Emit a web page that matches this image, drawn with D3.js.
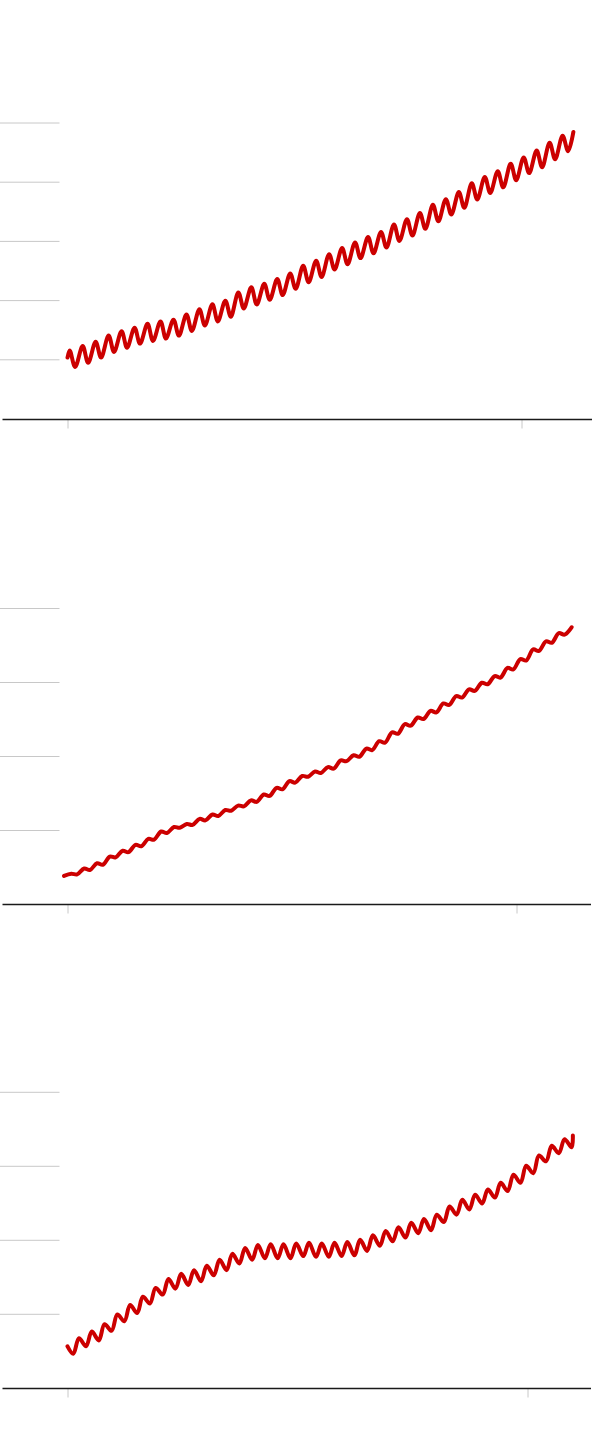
<!DOCTYPE html>
<html><head><meta charset="utf-8">
<script src="https://cdn.jsdelivr.net/npm/d3@7/dist/d3.min.js"></script>
<style>html,body{margin:0;padding:0;background:#fff}svg{display:block}</style>
</head><body>
<svg id="chart" width="600" height="1432"></svg>
<script>
// ---------------- DATA ----------------
// Panel 1 – CO2 (ppm): seasonal peaks and troughs per year, 1985..2023
const co2Ticks = [1985, 2020];
const co2Years = d3.range(1985, 2024);
const co2Peak = [343.0,344.5,345.9,348.0,349.5,350.7,352.0,352.8,353.4,355.1,356.9,358.6,359.8,362.6,364.3,365.5,367.1,369.0,371.6,373.3,375.5,377.6,379.5,381.3,383.0,385.5,387.3,389.4,392.2,394.1,396.5,399.5,401.6,403.5,406.1,408.2,410.5,413.2,415.5];
const co2Trough = [337.4,338.8,340.6,342.5,343.9,345.3,346.2,347.0,348.0,349.6,351.4,352.8,354.4,357.2,358.5,360.1,361.7,363.8,366.0,367.8,370.3,372.1,374.2,375.8,377.8,380.0,381.8,384.1,386.6,388.9,391.2,394.0,396.2,398.1,400.5,402.9,404.9,407.6,410.3];
const co2First = {t: 1985.0, v: 340.6};
const co2Last = {t: 2024.0, v: 416.8};
const co2Grid = [340, 360, 380, 400, 420];

// Panel 2 – N2O (ppb): step top (A) 1985..2024 and step end (B) 1985..2023
const n2oTicks = [1985, 2020];
const n2oYearsA = d3.range(1985, 2025);
const n2oA = [304.1,304.8,305.5,306.4,307.2,308.0,308.8,309.8,310.4,310.8,311.5,312.1,312.7,313.3,314.0,314.8,315.7,316.6,317.3,317.9,318.5,319.4,320.1,321.0,322.0,323.2,324.3,325.2,326.1,327.1,328.1,329.0,329.9,330.8,331.9,333.1,334.4,335.5,336.6,337.4];
const n2oYearsB = d3.range(1985, 2024);
const n2oB = [304.0,304.6,305.3,306.3,307.0,307.8,308.7,309.6,310.3,310.7,311.3,311.9,312.6,313.2,313.8,314.6,315.5,316.4,317.2,317.7,318.3,319.3,319.9,320.8,321.8,323.0,324.1,325.0,325.9,326.9,327.9,328.8,329.7,330.6,331.7,332.9,334.2,335.3,336.4];
const n2oFirst = {t: 1984.73, v: 303.8};
const n2oGrid = [310, 320, 330, 340];

// Panel 3 – CH4 (ppb): troughs 1985..2024, peaks 1985..2023
const ch4Ticks = [1985, 2021];
const ch4YearsT = d3.range(1985, 2025);
const ch4Trough = [1646,1656,1664,1677,1690,1701,1714,1726,1734,1739,1744,1752,1759,1768,1773,1775,1775,1775,1778,1777,1777,1778,1779,1785,1792,1798,1803,1809,1813,1824,1834,1841,1849,1857,1866,1877,1890,1906,1917,1925];
const ch4YearsP = d3.range(1985, 2024);
const ch4Peak = [1667,1676,1686,1699,1712,1723,1735,1747,1754,1759,1765,1773,1781,1789,1793,1794,1794,1795,1796,1795,1796,1797,1800,1806,1812,1817,1823,1828,1834,1845,1854,1861,1868,1877,1888,1900,1914,1927,1936];
const ch4First = {t: 1985.0, v: 1656};
const ch4Last = {t: 2024.55, v: 1941};
const ch4Grid = [1700, 1800, 1900, 2000];

// ---------------- BUILD SERIES ----------------
function merge(parts, first, last) {
  let pts = [];
  parts.forEach(p => p.years.forEach((yr, i) => pts.push({t: yr + p.phase, v: p.values[i]})));
  pts.sort((a, b) => a.t - b.t);
  if (first) pts.unshift(first);
  if (last) pts.push(last);
  return pts;
}
const co2Series = merge([{years: co2Years, values: co2Peak, phase: 0.17}, {years: co2Years, values: co2Trough, phase: 0.59}], co2First, co2Last);
const n2oSeries = merge([{years: n2oYearsA, values: n2oA, phase: 0.3}, {years: n2oYearsB, values: n2oB, phase: 0.75}], n2oFirst, null);
const ch4Series = merge([{years: ch4YearsT, values: ch4Trough, phase: 0.45}, {years: ch4YearsP, values: ch4Peak, phase: 0.9}], ch4First, ch4Last);

// ---------------- LAYOUT ----------------
const panels = [
  {series: co2Series, ticks: co2Ticks, grid: co2Grid, yDomain: [320, 440], yRange: [418.5, 63.3], xRange: [67.5, 521.5], axisEnd: 592},
  {series: n2oSeries, ticks: n2oTicks, grid: n2oGrid, yDomain: [300, 350], yRange: [904, 534], xRange: [67.5, 516.5], axisEnd: 591},
  {series: ch4Series, ticks: ch4Ticks, grid: ch4Grid, yDomain: [1600, 2100], yRange: [1387.8, 1017.8], xRange: [67.5, 527.5], axisEnd: 591}
];

const svg = d3.select("#chart");

panels.forEach(p => {
  const x = d3.scaleLinear().domain(p.ticks).range(p.xRange);
  const y = d3.scaleLinear().domain(p.yDomain).range(p.yRange);
  const g = svg.append("g");

  // left gridlines
  const gy = g.append("g")
    .call(d3.axisRight(y).tickValues(p.grid).tickSize(59.5).tickFormat(""));
  gy.select(".domain").remove();
  gy.selectAll(".tick line").attr("stroke", "#c8c8c8").attr("stroke-width", 1);

  // bottom ticks
  const baseY = Math.round(y(p.yDomain[0])) + 0.5;
  const gx = g.append("g").attr("transform", `translate(0,${baseY})`)
    .call(d3.axisBottom(x).tickValues(p.ticks).tickSize(9).tickFormat(""));
  gx.select(".domain").remove();
  gx.selectAll(".tick line").attr("stroke", "#c8c8c8").attr("stroke-width", 1);

  // baseline
  g.append("line")
    .attr("x1", 2.5).attr("x2", p.axisEnd)
    .attr("y1", baseY).attr("y2", baseY)
    .attr("stroke", "#1a1a1a").attr("stroke-width", 1.5);

  // data line
  const line = d3.line().x(d => x(d.t)).y(d => y(d.v)).curve(d3.curveCatmullRom.alpha(0.5));
  g.append("path").datum(p.series)
    .attr("d", line)
    .attr("fill", "none")
    .attr("stroke", "#cc0000")
    .attr("stroke-width", 4)
    .attr("stroke-linejoin", "round")
    .attr("stroke-linecap", "round");
});
</script>
</body></html>
